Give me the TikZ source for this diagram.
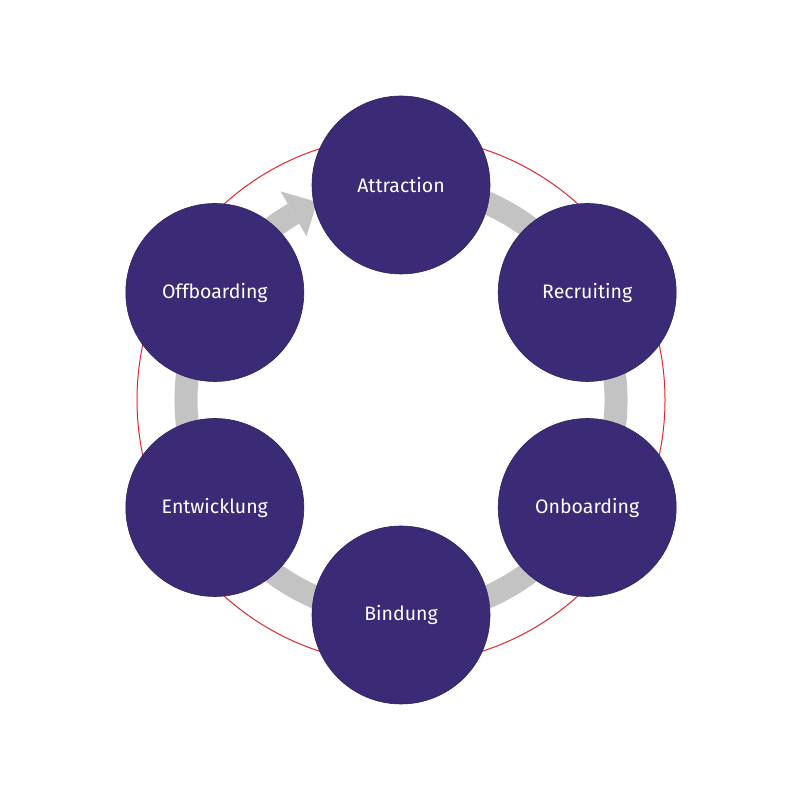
\documentclass[tikz,border=0pt]{standalone}
\usepackage{fontspec}
\setmainfont{Fira Sans}
\definecolor{phase}{HTML}{3B2B76}
\definecolor{ring}{HTML}{C3C3C3}
\definecolor{redline}{HTML}{E0262B}
\tikzset{
  phasenode/.style={circle, fill=phase, draw=phase!80!black, line width=0.6pt, minimum size=178pt, inner sep=0pt, text=white, font=\fontsize{19.5}{21}\selectfont}
}
\begin{document}
\begin{tikzpicture}[x=1pt,y=1pt]
\useasboundingbox (0,0) rectangle (800,800);
\coordinate (c) at (401,400);
% red outer circle
\draw[redline, line width=1pt] (c) circle (264);
% grey ring
\draw[ring, line width=23pt] ([shift={(100:215)}]c) arc[start angle=100, end angle=-240, radius=215];
\fill[ring] ([shift={(120:189)}]c) -- ([shift={(120:241)}]c) -- ([shift={(113:215)}]c) -- cycle;
% nodes
\node[phasenode] (attr) at ([shift={(90:215)}]c) {Attraction};
\node[phasenode] (recr) at ([shift={(30:215)}]c) {Recruiting};
\node[phasenode] (onb) at ([shift={(-30:215)}]c) {Onboarding};
\node[phasenode] (bind) at ([shift={(-90:215)}]c) {Bindung};
\node[phasenode] (entw) at ([shift={(-150:215)}]c) {Entwicklung};
\node[phasenode] (offb) at ([shift={(150:215)}]c) {Offboarding};
\end{tikzpicture}
\end{document}
